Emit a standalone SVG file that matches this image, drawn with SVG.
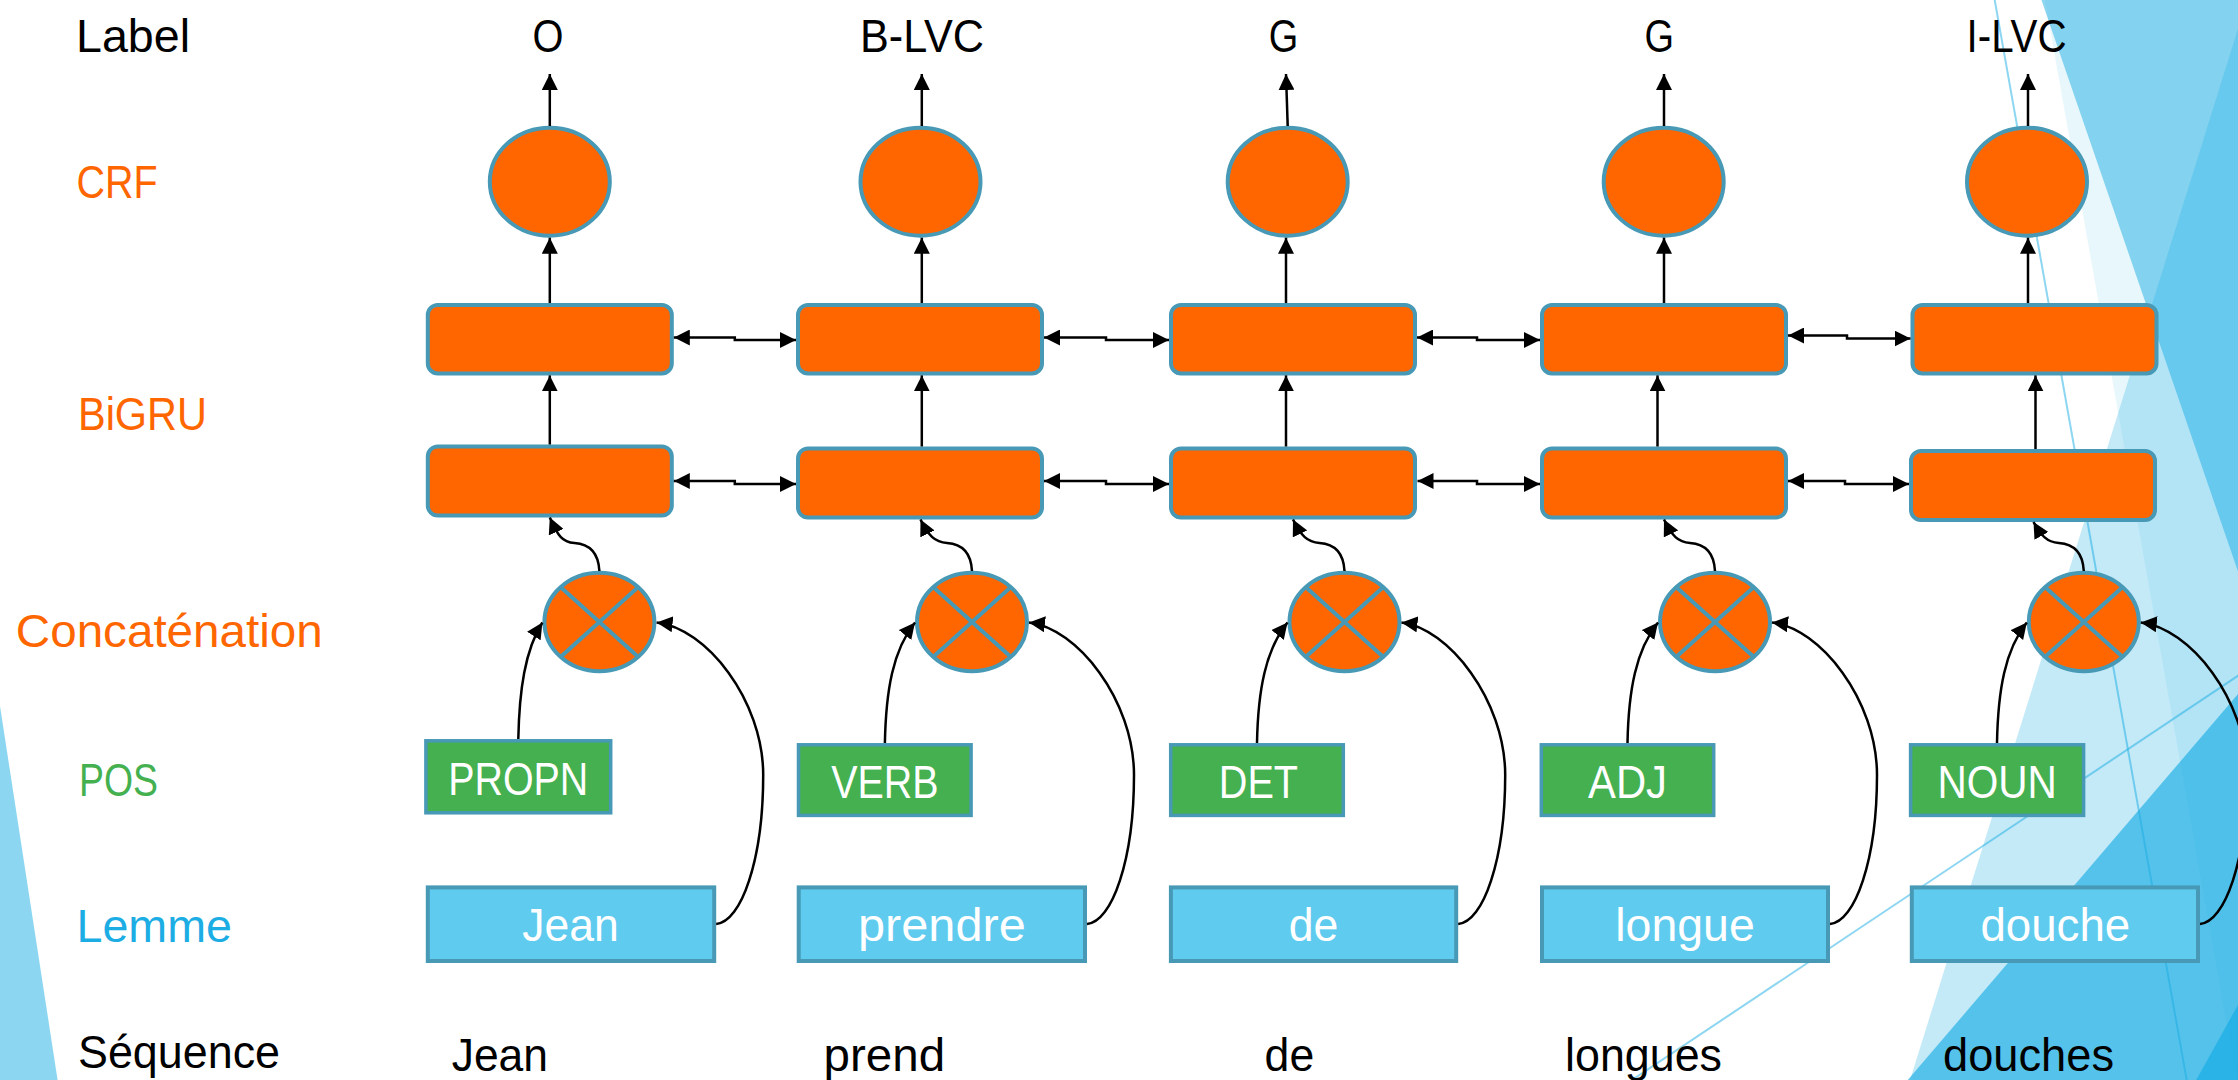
<svg xmlns="http://www.w3.org/2000/svg" width="2238" height="1080" viewBox="0 0 2238 1080">
<defs>
<style>
.t{font-family:"Liberation Sans","Open Sans",sans-serif;font-size:47px}
.k{fill:#000}.o{fill:#FF6600}.g{fill:#44B04F}.b{fill:#1CADE4}.w{fill:#fff}
.crf{fill:#FF6600;stroke:#4799B6;stroke-width:4}
.gru{fill:#FF6600;stroke:#4799B6;stroke-width:4}
.cat{fill:#FF6600;stroke:#4799B6;stroke-width:4}
.x{stroke:#4799B6;stroke-width:4;fill:none}
.pos{fill:#44B050;stroke:#4799B6;stroke-width:3.5}
.lem{fill:#5FCBEF;stroke:#4799B6;stroke-width:4}
.c{fill:none;stroke:#000;stroke-width:2.5}
.a{marker-end:url(#ah)}
.d{marker-start:url(#ah);marker-end:url(#ah)}
.bg{fill:#1CADE4}
.bl{stroke:#1CADE4;stroke-opacity:0.5;stroke-width:2;fill:none}
</style>
<marker id="ah" viewBox="0 0 16 16" refX="16" refY="8" markerWidth="16" markerHeight="16" markerUnits="userSpaceOnUse" orient="auto-start-reverse">
<path d="M0,0 L16,8 L0,16 z" fill="#000"/>
</marker>
</defs>
<rect x="0" y="0" width="2238" height="1080" fill="#fff"/>
<g id="background">
<polygon class="bg" fill-opacity="0.5" points="0,706 57.6,1080 0,1080"/>
<line class="bl" x1="1936.2" y1="-329" x2="2200.2" y2="1156"/>
<line class="bl" x1="1515" y1="1158" x2="2546.3" y2="470.2"/>
<polygon class="bg" fill-opacity="0.1" points="1986.5,-329 2700,-329 2700,1158 2250.5,1158"/>
<polygon class="bg" fill-opacity="0.26" points="2349.6,-329 2700,-329 2700,1158 1885.7,1158"/>
<polygon class="bg" fill-opacity="0.5" points="1928.3,-329 2700,-329 2700,1158 2439.7,1158"/>
<polygon class="bg" fill-opacity="0.66" points="2547,333 1841,1158 2547,1158"/>
<polygon class="bg" fill-opacity="0.75" points="2546,450.4 2152.9,1158 2546,1158"/>
</g>
<g id="row-labels">
<text class="t k" x="76" y="51.7" textLength="114" lengthAdjust="spacingAndGlyphs">Label</text>
<text class="t o" x="76.5" y="198" textLength="81" lengthAdjust="spacingAndGlyphs">CRF</text>
<text class="t o" x="78" y="430" textLength="129" lengthAdjust="spacingAndGlyphs">BiGRU</text>
<text class="t o" x="15.8" y="647" textLength="307" lengthAdjust="spacingAndGlyphs">Concaténation</text>
<text class="t g" x="79" y="796" textLength="79" lengthAdjust="spacingAndGlyphs">POS</text>
<text class="t b" x="76.5" y="942" textLength="155.5" lengthAdjust="spacingAndGlyphs">Lemme</text>
<text class="t k" x="78" y="1068" textLength="202" lengthAdjust="spacingAndGlyphs">Séquence</text>
</g>
<g id="labels">
<text class="t k" x="532.6" y="51.7" textLength="31" lengthAdjust="spacingAndGlyphs">O</text>
<text class="t k" x="860" y="51.7" textLength="124" lengthAdjust="spacingAndGlyphs">B-LVC</text>
<text class="t k" x="1268.8" y="51.7" textLength="29.5" lengthAdjust="spacingAndGlyphs">G</text>
<text class="t k" x="1644.5" y="51.7" textLength="29.5" lengthAdjust="spacingAndGlyphs">G</text>
<text class="t k" x="1966.6" y="51.7" textLength="100" lengthAdjust="spacingAndGlyphs">I-LVC</text>
</g>
<g id="sequence">
<text class="t k" x="451.7" y="1070.5" textLength="96.3" lengthAdjust="spacingAndGlyphs">Jean</text>
<text class="t k" x="823.6" y="1070.5" textLength="121.5" lengthAdjust="spacingAndGlyphs">prend</text>
<text class="t k" x="1264.6" y="1070.5" textLength="49.6" lengthAdjust="spacingAndGlyphs">de</text>
<text class="t k" x="1565" y="1070.5" textLength="157" lengthAdjust="spacingAndGlyphs">longues</text>
<text class="t k" x="1943" y="1070.5" textLength="171" lengthAdjust="spacingAndGlyphs">douches</text>
</g>
<g id="crf-1"><ellipse class="crf" cx="549.8" cy="181.7" rx="60" ry="54"/></g>
<g id="crf-2"><ellipse class="crf" cx="920.5" cy="181.7" rx="60" ry="54"/></g>
<g id="crf-3"><ellipse class="crf" cx="1287.7" cy="181.7" rx="60" ry="54"/></g>
<g id="crf-4"><ellipse class="crf" cx="1663.7" cy="181.7" rx="60" ry="54"/></g>
<g id="crf-5"><ellipse class="crf" cx="2027" cy="181.7" rx="60" ry="54"/></g>
<g id="gru-top-1"><rect class="gru" x="427.8" y="305" width="244" height="68.4" rx="10"/></g>
<g id="gru-top-2"><rect class="gru" x="798" y="305" width="244" height="68.4" rx="10"/></g>
<g id="gru-top-3"><rect class="gru" x="1171" y="305" width="244" height="68.4" rx="10"/></g>
<g id="gru-top-4"><rect class="gru" x="1542" y="305" width="244" height="68.4" rx="10"/></g>
<g id="gru-top-5"><rect class="gru" x="1912.5" y="305" width="244" height="68.4" rx="10"/></g>
<g id="gru-bot-1"><rect class="gru" x="427.8" y="446.5" width="244" height="69" rx="10"/></g>
<g id="gru-bot-2"><rect class="gru" x="798" y="448.5" width="244" height="69" rx="10"/></g>
<g id="gru-bot-3"><rect class="gru" x="1171" y="448.5" width="244" height="69" rx="10"/></g>
<g id="gru-bot-4"><rect class="gru" x="1542" y="448.5" width="244" height="69" rx="10"/></g>
<g id="gru-bot-5"><rect class="gru" x="1911" y="451" width="244" height="69" rx="10"/></g>
<g id="concat-1"><ellipse class="cat" cx="599.4" cy="622" rx="55" ry="49.3"/><path class="x" d="M560.5,587.1 L638.3,656.9 M638.3,587.1 L560.5,656.9"/></g>
<g id="concat-2"><ellipse class="cat" cx="972" cy="622" rx="55" ry="49.3"/><path class="x" d="M933.1,587.1 L1010.9,656.9 M1010.9,587.1 L933.1,656.9"/></g>
<g id="concat-3"><ellipse class="cat" cx="1344.5" cy="622" rx="55" ry="49.3"/><path class="x" d="M1305.6,587.1 L1383.4,656.9 M1383.4,587.1 L1305.6,656.9"/></g>
<g id="concat-4"><ellipse class="cat" cx="1715" cy="622" rx="55" ry="49.3"/><path class="x" d="M1676.1,587.1 L1753.9,656.9 M1753.9,587.1 L1676.1,656.9"/></g>
<g id="concat-5"><ellipse class="cat" cx="2083.8" cy="622" rx="55" ry="49.3"/><path class="x" d="M2044.9,587.1 L2122.7,656.9 M2122.7,587.1 L2044.9,656.9"/></g>
<g id="pos-1"><rect class="pos" x="425.9" y="740.8" width="184.8" height="72"/><text class="t w" x="448.3" y="795" textLength="140" lengthAdjust="spacingAndGlyphs">PROPN</text></g>
<g id="pos-2"><rect class="pos" x="798.5" y="744.8" width="172.6" height="70.6"/><text class="t w" x="831.2" y="797.6" textLength="107.4" lengthAdjust="spacingAndGlyphs">VERB</text></g>
<g id="pos-3"><rect class="pos" x="1170.7" y="744.8" width="172.6" height="70.6"/><text class="t w" x="1218.8" y="797.6" textLength="79.2" lengthAdjust="spacingAndGlyphs">DET</text></g>
<g id="pos-4"><rect class="pos" x="1541.3" y="744.8" width="172.4" height="70.6"/><text class="t w" x="1588" y="797.6" textLength="79" lengthAdjust="spacingAndGlyphs">ADJ</text></g>
<g id="pos-5"><rect class="pos" x="1910.6" y="744.8" width="173" height="70.6"/><text class="t w" x="1937.4" y="797.6" textLength="119.5" lengthAdjust="spacingAndGlyphs">NOUN</text></g>
<g id="lemme-1"><rect class="lem" x="427.8" y="887.4" width="286.4" height="73.6"/><text class="t w" x="522.3" y="941" textLength="96.4" lengthAdjust="spacingAndGlyphs">Jean</text></g>
<g id="lemme-2"><rect class="lem" x="798.7" y="887.4" width="286.3" height="73.6"/><text class="t w" x="858" y="941" textLength="167.7" lengthAdjust="spacingAndGlyphs">prendre</text></g>
<g id="lemme-3"><rect class="lem" x="1170.9" y="887.4" width="285.3" height="73.6"/><text class="t w" x="1288.7" y="941" textLength="49.6" lengthAdjust="spacingAndGlyphs">de</text></g>
<g id="lemme-4"><rect class="lem" x="1542" y="887.4" width="286" height="73.6"/><text class="t w" x="1615.3" y="941" textLength="139.5" lengthAdjust="spacingAndGlyphs">longue</text></g>
<g id="lemme-5"><rect class="lem" x="1911.8" y="887.4" width="286.2" height="73.6"/><text class="t w" x="1980.4" y="941" textLength="149.8" lengthAdjust="spacingAndGlyphs">douche</text></g>
<g id="connectors">
<path class="c a" d="M549.8,126 L549.8,74"/>
<path class="c a" d="M921.8,126 L921.8,74"/>
<path class="c a" d="M1287.7,126 L1286,74"/>
<path class="c a" d="M1664,126 L1664,74"/>
<path class="c a" d="M2028,126 L2028,74"/>
<path class="c a" d="M549.8,303 L549.8,237.7"/>
<path class="c a" d="M921.8,303 L921.8,237.7"/>
<path class="c a" d="M1286,303 L1286,237.7"/>
<path class="c a" d="M1664,303 L1664,237.7"/>
<path class="c a" d="M2028,303 L2028,237.7"/>
<path class="c a" d="M549.8,444.5 L549.8,375.4"/>
<path class="c a" d="M921.8,446.5 L921.8,375.4"/>
<path class="c a" d="M1286,446.5 L1286,375.4"/>
<path class="c a" d="M1657.5,446.5 L1657.5,375.4"/>
<path class="c a" d="M2035.5,449 L2035.5,375.4"/>
<path class="c d" d="M673.8,337.5 H734.8 V340 H796"/>
<path class="c d" d="M1044,337.5 H1106 V340 H1169"/>
<path class="c d" d="M1417,337.5 H1477 V340 H1540"/>
<path class="c d" d="M1788,335.5 H1847 V338.5 H1910.5"/>
<path class="c d" d="M673.8,481 H734.8 V484 H796"/>
<path class="c d" d="M1044,481 H1106 V484 H1169"/>
<path class="c d" d="M1417.5,481 H1477 V484 H1540"/>
<path class="c d" d="M1788,481 H1845 V484 H1909"/>
<path class="c a" d="M599.4,571 C598.4,552 589.4,544 574.4,543 C562.4,542 557.8,536 549.8,517.5"/>
<path class="c a" d="M972,571 C971,552 962,544 947,543 C935,542 928.5,536 920.5,519.5"/>
<path class="c a" d="M1344.5,571 C1343.5,552 1334.5,544 1319.5,543 C1307.5,542 1301,536 1293,519.5"/>
<path class="c a" d="M1715,571 C1714,552 1705,544 1690,543 C1678,542 1672,536 1664,519.5"/>
<path class="c a" d="M2083.8,571 C2082.8,552 2073.8,544 2058.8,543 C2046.8,542 2041.5,536 2033.5,522"/>
<path class="c a" d="M518.3,739 C519.3,690 525,650 542.4,622.5"/>
<path class="c a" d="M884.9,743 C885.9,690 893,650 915,622.5"/>
<path class="c a" d="M1257,743 C1258,690 1265.5,650 1287.5,622.5"/>
<path class="c a" d="M1627.5,743 C1628.5,690 1636,650 1658,622.5"/>
<path class="c a" d="M1997,743 C1998,690 2005,650 2026.8,622.5"/>
<path class="c a" d="M716.2,924 C741.2,922 763.2,860 763.2,775 C763.2,700 706.2,628 656.6,622.5"/>
<path class="c a" d="M1087,924 C1112,922 1134,860 1134,775 C1134,700 1077,628 1029,622.5"/>
<path class="c a" d="M1458.2,924 C1483.2,922 1505.2,860 1505.2,775 C1505.2,700 1448.2,628 1401.5,622.5"/>
<path class="c a" d="M1830,924 C1855,922 1877,860 1877,775 C1877,700 1820,628 1772,622.5"/>
<path class="c a" d="M2200,924 C2225,922 2247,860 2247,775 C2247,700 2190,628 2140.8,622.5"/>
</g>
</svg>
